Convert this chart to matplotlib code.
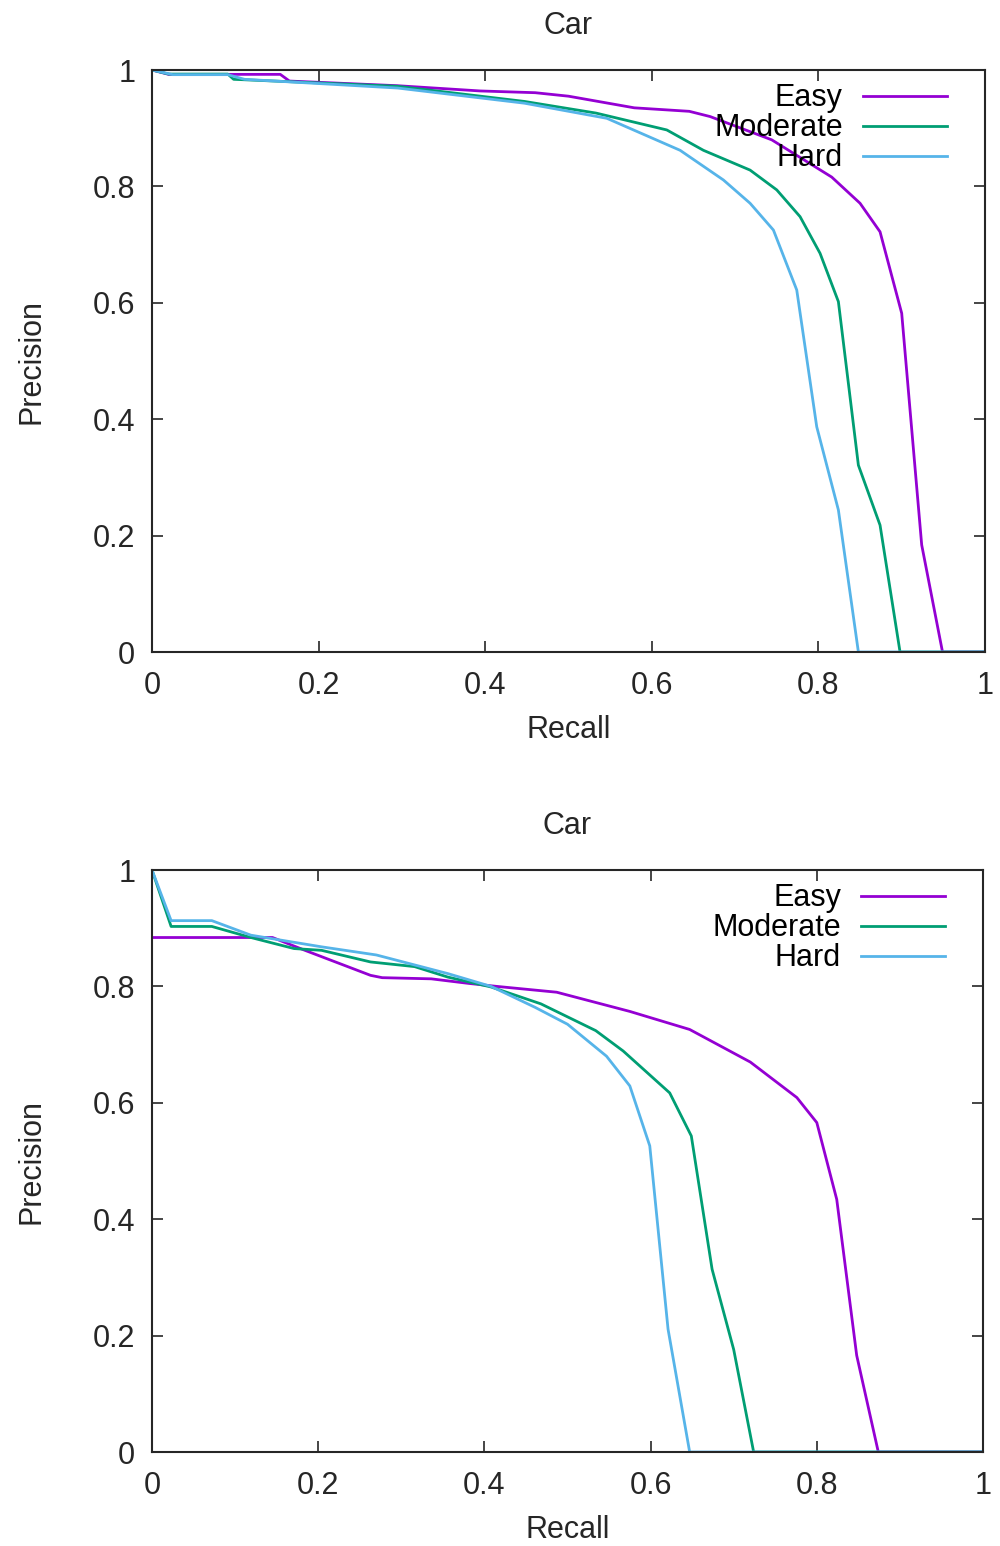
import matplotlib
matplotlib.use("Agg")
import matplotlib.pyplot as plt

plt.rcParams['font.family'] = ['Liberation Sans', 'DejaVu Sans']

# ---- Top panel data (Recall, Precision) ----
top_easy_r = [0.0, 0.02, 0.154, 0.165, 0.295, 0.394, 0.46, 0.50, 0.579, 0.645, 0.67, 0.744, 0.816, 0.850, 0.874, 0.900, 0.924, 0.949, 1.0]
top_easy_p = [1.0, 0.9925, 0.9925, 0.981, 0.973, 0.964, 0.961, 0.955, 0.935, 0.929, 0.92, 0.88, 0.816, 0.771, 0.722, 0.582, 0.184, 0.0, 0.0]

top_mod_r = [0.0, 0.02, 0.091, 0.098, 0.295, 0.447, 0.533, 0.618, 0.662, 0.718, 0.750, 0.778, 0.802, 0.824, 0.848, 0.874, 0.898, 1.0]
top_mod_p = [1.0, 0.993, 0.993, 0.984, 0.972, 0.946, 0.926, 0.897, 0.862, 0.828, 0.794, 0.748, 0.685, 0.602, 0.321, 0.218, 0.0, 0.0]

top_hard_r = [0.0, 0.025, 0.091, 0.111, 0.295, 0.447, 0.546, 0.634, 0.686, 0.718, 0.746, 0.774, 0.798, 0.824, 0.848, 1.0]
top_hard_p = [1.0, 0.992, 0.992, 0.984, 0.969, 0.943, 0.917, 0.862, 0.811, 0.771, 0.725, 0.622, 0.387, 0.244, 0.0, 0.0]

# ---- Bottom panel data ----
bot_easy_r = [0.0, 0.145, 0.184, 0.263, 0.277, 0.336, 0.382, 0.415, 0.487, 0.527, 0.575, 0.647, 0.72, 0.776, 0.80, 0.824, 0.848, 0.874, 1.0]
bot_easy_p = [0.884, 0.884, 0.862, 0.819, 0.815, 0.813, 0.805, 0.80, 0.79, 0.775, 0.757, 0.726, 0.670, 0.609, 0.566, 0.434, 0.166, 0.0, 0.0]

bot_mod_r = [0.0, 0.023, 0.072, 0.119, 0.171, 0.204, 0.263, 0.316, 0.356, 0.408, 0.468, 0.534, 0.567, 0.623, 0.649, 0.674, 0.70, 0.724, 1.0]
bot_mod_p = [1.0, 0.903, 0.903, 0.884, 0.865, 0.862, 0.842, 0.834, 0.816, 0.799, 0.770, 0.724, 0.689, 0.617, 0.543, 0.314, 0.176, 0.0, 0.0]

bot_hard_r = [0.0, 0.023, 0.072, 0.119, 0.204, 0.27, 0.356, 0.408, 0.461, 0.50, 0.547, 0.575, 0.599, 0.621, 0.647, 1.0]
bot_hard_p = [1.0, 0.913, 0.913, 0.888, 0.868, 0.854, 0.822, 0.80, 0.764, 0.735, 0.680, 0.629, 0.526, 0.211, 0.0, 0.0]

labels = ["Easy", "Moderate", "Hard"]
colors = ["#9400D3", "#009E73", "#56B4E9"]
ticks = [0, 0.2, 0.4, 0.6, 0.8, 1]
tick_labels = ["0", "0.2", "0.4", "0.6", "0.8", "1"]

FS = 22
TXT = '#262626'

fig = plt.figure(figsize=(10, 15.46), dpi=100)
W, H = 1000, 1546

def make_ax(left, top, right, bottom):
    return fig.add_axes([left / W, 1 - bottom / H, (right - left) / W, (bottom - top) / H])

panels = [
    (make_ax(152, 70, 985, 652), [(top_easy_r, top_easy_p), (top_mod_r, top_mod_p), (top_hard_r, top_hard_p)]),
    (make_ax(152, 870, 983, 1452), [(bot_easy_r, bot_easy_p), (bot_mod_r, bot_mod_p), (bot_hard_r, bot_hard_p)]),
]

for ax, series in panels:
    for (r, p), lab, c in zip(series, labels, colors):
        ax.plot(r, p, color=c, lw=2.0, label=lab)
    ax.set_xlim(0, 1)
    ax.set_ylim(0, 1)
    ax.set_xticks(ticks)
    ax.set_xticklabels(tick_labels)
    ax.set_yticks(ticks)
    ax.set_yticklabels(tick_labels)
    ax.tick_params(direction='in', length=8, width=1.2, top=True, right=True,
                   labelsize=FS, colors=TXT, pad=12)
    ax.tick_params(axis='x', pad=14)
    for s in ax.spines.values():
        s.set_linewidth(1.5)
        s.set_color(TXT)
    ax.set_xlabel("Recall", fontsize=FS, labelpad=10, color=TXT)
    ax.set_ylabel("Precision", fontsize=FS, labelpad=33, color=TXT)
    ax.set_title("Car", fontsize=FS, pad=26, color=TXT)
    ax.legend(loc='upper right', bbox_to_anchor=(0.954, 0.977), markerfirst=False,
              frameon=False, fontsize=FS, handlelength=2.75, handletextpad=0.65,
              labelspacing=0.0, borderaxespad=0, borderpad=0)

fig.savefig("out.png", dpi=100)
